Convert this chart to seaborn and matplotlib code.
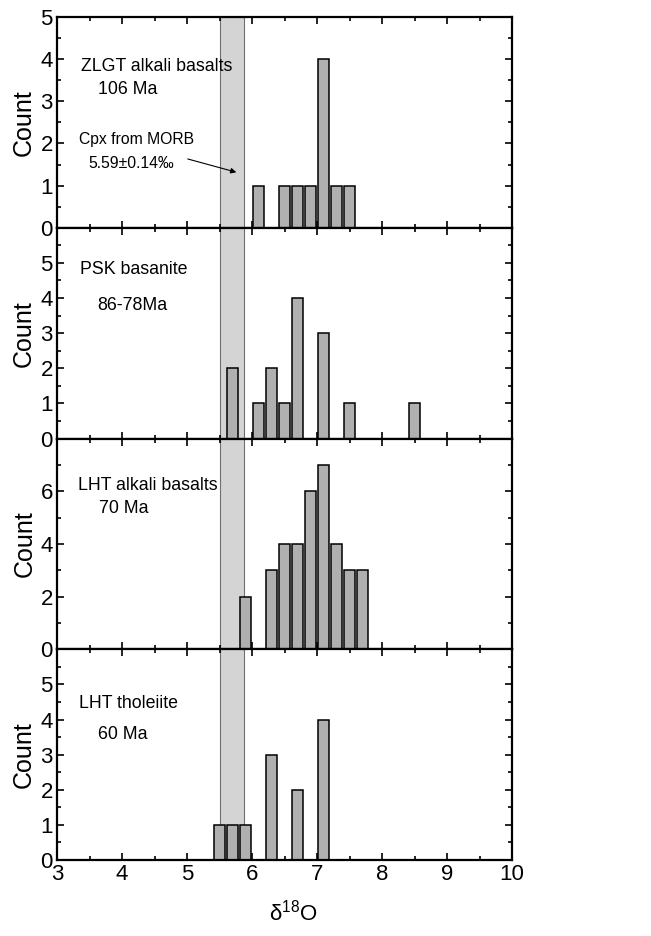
import numpy as np
import pandas as pd
import matplotlib.pyplot as plt
import seaborn as sns
from matplotlib.ticker import MultipleLocator

# ==========================================
# Data (bin centres of d18O and counts per suite)
# ==========================================
zlgt_centers = [6.1, 6.5, 6.7, 6.9, 7.1, 7.3, 7.5]
zlgt_counts = [1, 1, 1, 1, 4, 1, 1]

psk_centers = [5.7, 6.1, 6.3, 6.5, 6.7, 7.1, 7.5, 8.5]
psk_counts = [2, 1, 2, 1, 4, 3, 1, 1]

lht_alk_centers = [5.9, 6.3, 6.5, 6.7, 6.9, 7.1, 7.3, 7.5, 7.7]
lht_alk_counts = [2, 3, 4, 4, 6, 7, 4, 3, 3]

lht_thol_centers = [5.5, 5.7, 5.9, 6.3, 6.7, 7.1]
lht_thol_counts = [1, 1, 1, 3, 2, 4]

suite_names = ["ZLGT alkali basalts", "PSK basanite", "LHT alkali basalts", "LHT tholeiite"]
suite_ages = ["106 Ma", "86-78Ma", "70 Ma", "60 Ma"]

MORB_LOW, MORB_HIGH = 5.5, 5.87

# ==========================================
# Style
# ==========================================
sns.set_style("ticks")
plt.rcParams['font.family'] = ['Liberation Sans', 'DejaVu Sans']
plt.rcParams['mathtext.fontset'] = 'custom'
plt.rcParams['mathtext.rm'] = 'Liberation Sans'
for key in ['text.color', 'axes.labelcolor', 'xtick.color', 'ytick.color', 'axes.edgecolor']:
    plt.rcParams[key] = 'black'

panels = [
    (zlgt_centers, zlgt_counts, 5, 1, 0.5,
     [(0.22, 0.764), (0.156, 0.656)]),
    (psk_centers, psk_counts, 6, 1, 0.5,
     [(0.169, 0.80), (0.165, 0.629)]),
    (lht_alk_centers, lht_alk_counts, 8, 2, 1,
     [(0.20, 0.776), (0.147, 0.667)]),
    (lht_thol_centers, lht_thol_counts, 6, 1, 0.5,
     [(0.156, 0.743), (0.145, 0.595)]),
]

fig, axes = plt.subplots(4, 1, figsize=(6.51, 9.36), dpi=100, sharex=True)
fig.subplots_adjust(left=0.0876, right=0.7865, top=0.9818, bottom=0.0812, hspace=0)

for i, (ax, (centers, counts, ymax, major, minor, txt)) in enumerate(zip(axes, panels)):
    ax.axvspan(MORB_LOW, MORB_HIGH, facecolor='#d4d4d4', edgecolor='#707070',
               linewidth=0.8, zorder=0)
    df = pd.DataFrame({'d18O': centers, 'n': counts})
    sns.histplot(data=df, x='d18O', weights='n', binwidth=0.2, binrange=(5.4, 8.6),
                 shrink=0.8, color='#b0b0b0', alpha=1, edgecolor='black',
                 linewidth=1.1, ax=ax, zorder=2)

    ax.set_xlim(3, 10)
    ax.set_ylim(0, ymax)
    ax.xaxis.set_major_locator(MultipleLocator(1))
    ax.xaxis.set_minor_locator(MultipleLocator(0.5))
    ticks = np.arange(0, ymax + 0.01, major)
    if i > 0:
        ticks = ticks[:-1]
    ax.set_yticks(ticks)
    ax.yaxis.set_minor_locator(MultipleLocator(minor))

    ax.tick_params(which='both', direction='in', top=True, right=True,
                   width=1.2, labelsize=16, pad=3)
    ax.tick_params(which='major', length=5)
    ax.tick_params(which='minor', length=3)
    for s in ax.spines.values():
        s.set_linewidth(1.6)

    ax.set_ylabel("Count", fontsize=18, labelpad=3)
    ax.set_xlabel("")

    ax.text(txt[0][0], txt[0][1], suite_names[i], transform=ax.transAxes,
            ha='center', va='center', fontsize=12.8)
    ax.text(txt[1][0], txt[1][1], suite_ages[i], transform=ax.transAxes,
            ha='center', va='center', fontsize=12.8)

# MORB annotation on the top panel
top = axes[0]
top.text(0.174, 0.42, "Cpx from MORB", transform=top.transAxes,
         ha='center', va='center', fontsize=11.3)
top.text(0.163, 0.307, "5.59\u00b10.14\u2030", transform=top.transAxes,
         ha='center', va='center', fontsize=11.3)
top.annotate("", xy=(5.8, 1.30), xytext=(4.97, 1.65),
             arrowprops=dict(arrowstyle='-|>', color='black', lw=0.8,
                             mutation_scale=8))

axes[-1].set_xlabel("\u03b4$^{18}$O", fontsize=16)
axes[-1].xaxis.set_label_coords(0.52, -0.19)

plt.savefig("out.png", dpi=100)
